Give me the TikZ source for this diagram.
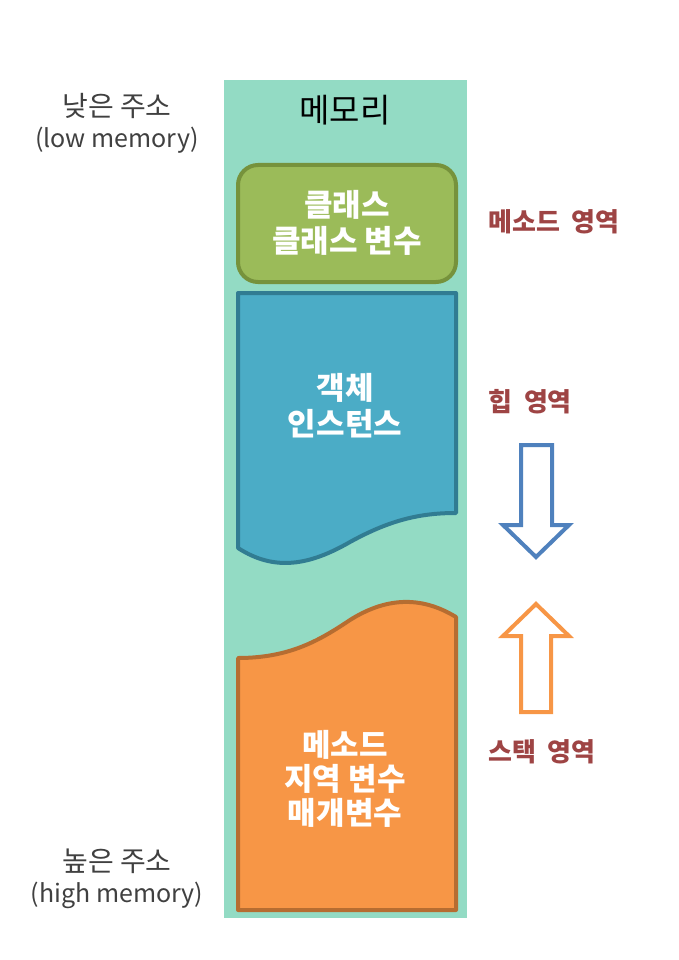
\documentclass[tikz,border=0pt]{standalone}
\usepackage{fontspec}
\setmainfont{Noto Sans CJK KR}
\usepackage{xcolor}
\usepackage{tikz}
\usetikzlibrary{positioning}

\definecolor{memfill}{RGB}{147,219,196}
\definecolor{classfill}{RGB}{155,187,89}
\definecolor{classline}{RGB}{118,146,60}
\definecolor{heapfill}{RGB}{75,172,198}
\definecolor{heapline}{RGB}{49,124,146}
\definecolor{stackfill}{RGB}{247,150,70}
\definecolor{stackline}{RGB}{182,109,49}
\definecolor{arealabel}{RGB}{158,68,68}
\definecolor{heaparrow}{RGB}{79,129,189}
\definecolor{addrtext}{RGB}{64,64,64}

\begin{document}
\begin{tikzpicture}[x=1pt, y=-1pt,
    boxtext/.style={text=white, align=center, font=\fontsize{31}{36}\selectfont\bfseries},
    areatext/.style={text=arealabel, anchor=west, inner sep=0pt, font=\fontsize{26}{30}\selectfont\bfseries},
    addrlabel/.style={text=addrtext, align=center, font=\fontsize{25}{31}\selectfont},
    blockarrow/.style={line width=4, fill=white, line join=miter}]
        \useasboundingbox (0,0) rectangle (678,960);

        % memory column
        \fill[memfill] (224,80) rectangle (467,918);
        \node[font=\fontsize{33}{38}\selectfont] (memtitle) at (345,110) {메모리};

        % method area
        \draw[classline, fill=classfill, line width=4, rounded corners=20] (238,165) rectangle (456,282);
        \node[boxtext] (classtext) at (347,223) {클래스\\클래스 변수};

        % heap area
        \draw[heapline, fill=heapfill, line width=4, line join=round] (238,293) -- (456,293) -- (456,513)
            .. controls (420,513) and (390,520) .. (350,542)
            .. controls (310,565) and (275,572) .. (238,548) -- cycle;
        \node[boxtext] (heaptext) at (345,406) {객체\\인스턴스};

        % stack area
        \draw[stackline, fill=stackfill, line width=4, line join=round] (238,910) -- (238,658)
            .. controls (290,658) and (320,640) .. (350,620)
            .. controls (385,598) and (420,595) .. (456,617) -- (456,910) -- cycle;
        \node[boxtext, font=\fontsize{31}{34}\selectfont\bfseries] (stacktext) at (345,779) {메소드\\지역 변수\\매개변수};

        % area names
        \node[areatext] (methodname) at (488,222) {메소드~~영역};
        \node[areatext] (heapname) at (488,402) {힙~~영역};
        \node[areatext] (stackname) at (488,752) {스택~~영역};

        % growth arrows
        \draw[blockarrow, draw=heaparrow] (521,445) -- (552,445) -- (552,525) -- (569,525) -- (536,557) -- (503,525) -- (521,525) -- cycle;
        \draw[blockarrow, draw=stackfill] (536,604) -- (569,636) -- (551,636) -- (551,712) -- (521,712) -- (521,636) -- (503,636) -- cycle;

        % addresses
        \node[addrlabel] (lowaddr) at (117,123) {{\fontsize{28}{31}\selectfont 낮은 주소}\\(low memory)};
        \node[addrlabel] (highaddr) at (117,879) {{\fontsize{28}{31}\selectfont 높은 주소}\\(high memory)};
    \end{tikzpicture}
\end{document}
